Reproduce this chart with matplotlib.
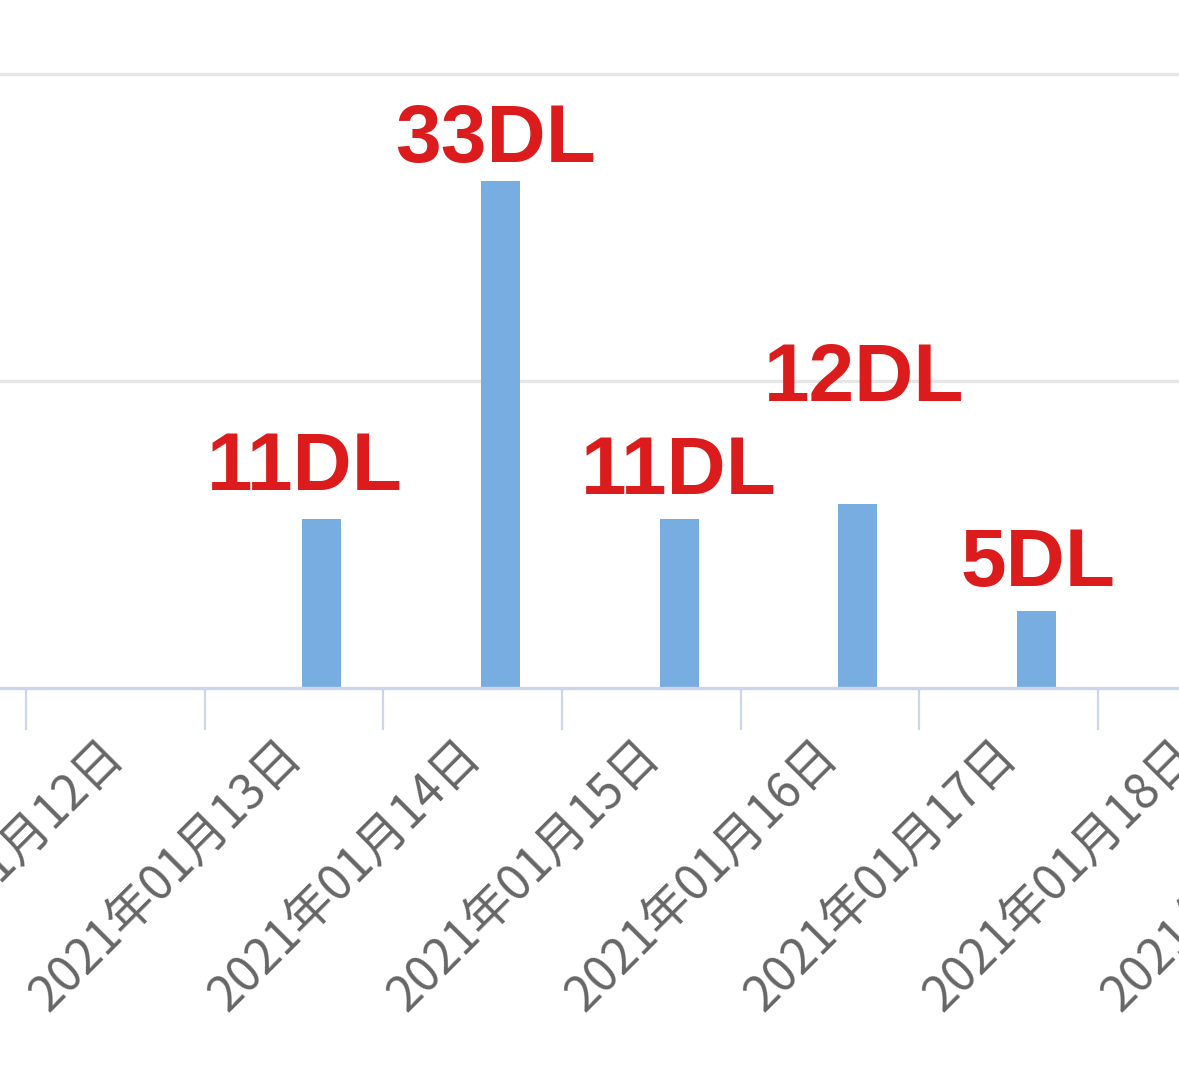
import matplotlib.pyplot as plt
import matplotlib.transforms as mtransforms

# data
days = ["2021年01月12日", "2021年01月13日", "2021年01月14日", "2021年01月15日",
        "2021年01月16日", "2021年01月17日", "2021年01月18日", "2021年01月19日"]
downloads = [0, 11, 33, 11, 12, 5, 0, 0]
labels = ["", "11DL", "33DL", "11DL", "12DL", "5DL", "", ""]

# label nudges in pixels (dx, dy above bar top)
label_nudge = [(0, 0), (-17, 29), (-5, 19), (0, 25), (6, 103), (2, 25), (0, 0), (0, 0)]

fig = plt.figure(figsize=(11.79, 10.8), dpi=100)
ax = fig.add_axes([0, 392 / 1080, 1, 688 / 1080])

bar_off = 0.655
xs = [i + bar_off for i in range(len(days))]
ax.bar(xs, downloads, width=0.218, color="#78ade2", zorder=2)

# gridlines
ax.set_yticks([20, 40])
ax.yaxis.grid(True, color="#e6e6e6", linewidth=2.4)
ax.tick_params(axis="y", length=0, labelleft=False)
ax.set_axisbelow(True)

for s in ["top", "left", "right"]:
    ax.spines[s].set_visible(False)
ax.spines["bottom"].set_color("#ccd6eb")
ax.spines["bottom"].set_linewidth(2.4)
ax.spines["bottom"].set_zorder(3)

# tick marks at day boundaries
ax.set_xticks(range(len(days)))
ax.set_xticklabels([])
ax.tick_params(axis="x", length=30, width=1.6, color="#ccd6eb", direction="out")

ax.set_xlim(-26 / 178.67, (1179 - 26) / 178.67)
ax.set_ylim(0, 688 / 15.35)

# rotated date labels
trans = mtransforms.offset_copy(ax.transData, fig=fig, x=0, y=-60, units="dots")
for i, d in enumerate(days):
    ax.text(i + 0.5, 0, d, transform=trans, rotation=45, rotation_mode="anchor",
            ha="right", va="center", fontsize=35, color="#666666",
            family=["Noto Sans CJK JP", "DejaVu Sans"], clip_on=False)

# red download labels
for x, v, lab, (dx, dy) in zip(xs, downloads, labels, label_nudge):
    if lab:
        ax.annotate(lab, (x, v), xytext=(dx, dy), textcoords="offset pixels",
                    ha="center", va="baseline", fontsize=59, fontweight="bold",
                    color="#dc1c1c", family="Liberation Sans")

fig.savefig("out.png", dpi=100)
